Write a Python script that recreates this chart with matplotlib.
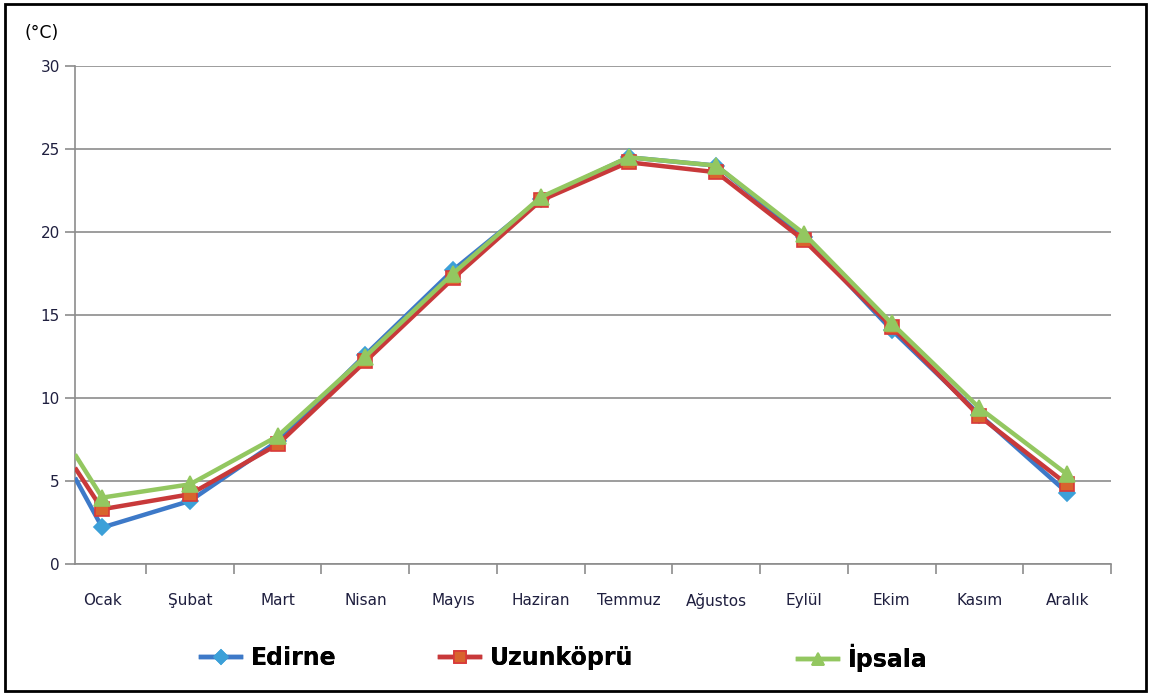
import numpy as np
import matplotlib.pyplot as plt
from matplotlib.patches import Rectangle

months = ['Ocak', 'Şubat', 'Mart', 'Nisan', 'Mayıs', 'Haziran',
          'Temmuz', 'Ağustos', 'Eylül', 'Ekim', 'Kasım', 'Aralık']
edirne = [2.2, 3.8, 7.4, 12.6, 17.7, 22.0, 24.5, 24.0, 19.7, 14.1, 9.0, 4.3]
uzunkopru = [3.3, 4.2, 7.2, 12.2, 17.2, 21.9, 24.2, 23.6, 19.5, 14.3, 8.9, 4.8]
ipsala = [4.0, 4.8, 7.7, 12.5, 17.5, 22.1, 24.5, 24.0, 19.9, 14.5, 9.4, 5.4]
# values where each line meets the left axis edge in the original
edge_start = [5.2, 5.8, 6.6]

names = ['Edirne', 'Uzunköprü', 'İpsala']
series = [edirne, uzunkopru, ipsala]
line_colors = ['#3D79C8', '#C8393A', '#93C760']
marker_faces = ['#3CA0D8', '#D8642E', '#93C760']
marker_edges = ['#3CA0D8', '#D8393A', '#93C760']
markers = ['D', 's', '^']
msizes = [8, 10, 11]
legend_x = [201, 440, 798]

fig = plt.figure(figsize=(11.5, 6.95), dpi=100)
ax = fig.add_axes([75 / 1150, 1 - 564 / 695, (1111 - 75) / 1150, (564 - 66) / 695])

x = np.arange(len(months))
xmin, xmax = -0.31, 11.5

handles = []
for vals, start, name, lc, mf, me, mk, ms in zip(series, edge_start, names, line_colors,
                                                 marker_faces, marker_edges, markers, msizes):
    ax.plot([xmin, x[0]], [start, vals[0]], color=lc, lw=3.2, solid_capstyle='butt', zorder=3)
    h, = ax.plot(x, vals, color=lc, lw=3.2, marker=mk, markersize=ms, markerfacecolor=mf,
                 markeredgecolor=me, markeredgewidth=1.2, label=name, zorder=3)
    handles.append(h)

ax.set_xlim(xmin, xmax)
ax.set_ylim(0, 30)
ax.set_yticks(range(0, 31, 5))
ax.yaxis.grid(True, color='#8C8C8C', lw=1.2)
ax.set_axisbelow(True)

ax.set_xticks(np.arange(0.5, 11.6, 1))
ax.set_xticklabels([])
ax.set_xticks(x, minor=True)
ax.set_xticklabels(months, minor=True)
ax.tick_params(axis='x', which='major', length=7, width=1.2, color='#8C8C8C')
ax.tick_params(axis='x', which='minor', length=0, pad=21, labelsize=11, labelcolor='#1F1F3F')
ax.tick_params(axis='y', length=7, width=1.2, color='#8C8C8C', labelsize=11, labelcolor='#1F1F3F', pad=4)

for side in ['top', 'right']:
    ax.spines[side].set_visible(False)
for side in ['left', 'bottom']:
    ax.spines[side].set_color('#8C8C8C')
    ax.spines[side].set_linewidth(1.2)

fig.text(24 / 1150, 1 - 33 / 695, '(°C)', fontsize=12.5, va='center', ha='left', color='#000000')

for h, lx in zip(handles, legend_x):
    leg = fig.legend(handles=[h], loc='center left', bbox_to_anchor=(lx / 1150, 1 - 658 / 695),
                     frameon=False, prop={'weight': 'bold', 'size': 17}, handlelength=1.7,
                     handletextpad=0.4, borderpad=0, borderaxespad=0, markerscale=0.85)
    fig.add_artist(leg)

fig.add_artist(Rectangle((5 / 1150, 4 / 695), 1141 / 1150, 687 / 695, transform=fig.transFigure,
                         fill=False, edgecolor='black', lw=2))

fig.savefig('out.png', dpi=100)
